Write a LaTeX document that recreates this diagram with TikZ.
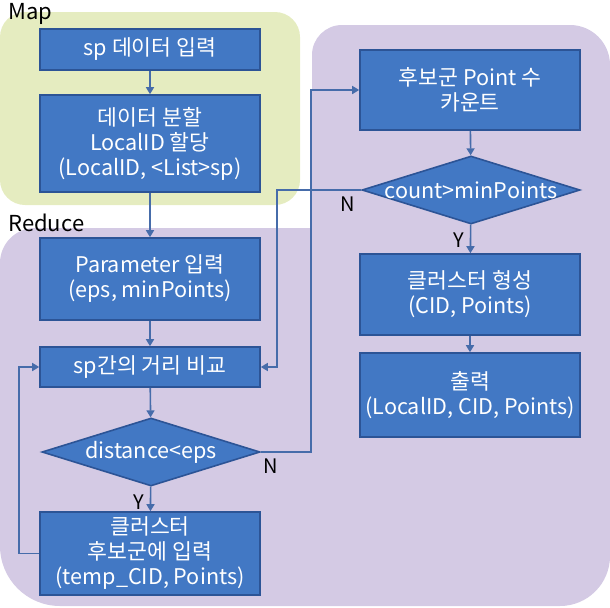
\documentclass[tikz,border=0pt]{standalone}
\usepackage{fontspec}
\setmainfont{Noto Sans CJK KR}
\usetikzlibrary{positioning,arrows.meta,shapes.geometric}
\definecolor{FlowBlue}{RGB}{66,120,196}
\definecolor{FlowEdge}{RGB}{44,84,150}
\definecolor{FlowLine}{RGB}{70,108,170}
\definecolor{MapGreen}{RGB}{229,236,192}
\definecolor{ReduceLilac}{RGB}{212,202,228}

\begin{document}
\begin{tikzpicture}[x=0.5pt,y=0.5pt,
    stepbox/.style={draw=FlowEdge,line width=0.8pt,fill=FlowBlue,text=white,
      minimum width=110pt,align=center,inner sep=2pt,
      font=\fontsize{10.8}{12.5}\selectfont},
    decision/.style={diamond,draw=FlowEdge,line width=0.8pt,fill=FlowBlue,text=white,
      minimum width=109pt,minimum height=34pt,inner sep=0pt,
      font=\fontsize{10.8}{12.5}\selectfont},
    flow/.style={FlowLine,line width=0.8pt,-{Triangle[width=4pt,length=3.5pt]}},
    yn/.style={font=\fontsize{10}{11}\selectfont,inner sep=1pt}]
  \useasboundingbox (0,0) rectangle (610,607);

  % phase backgrounds
  \fill[MapGreen,rounded corners=12.5pt] (0,402) rectangle (300,595);
  \fill[ReduceLilac] (0,61) -- (0,344) arc[start angle=180,end angle=90,radius=17.5pt]
    -- (312,379) -- (312,552) arc[start angle=180,end angle=90,radius=15pt]
    -- (570,582) arc[start angle=90,end angle=0,radius=20pt]
    -- (610,51) arc[start angle=0,end angle=-90,radius=25pt]
    -- (60,1) arc[start angle=270,end angle=180,radius=30pt] -- cycle;
  \node[font=\fontsize{11}{12}\selectfont,anchor=base west,inner sep=0pt] (maplbl) at (8,588) {Map};
  \node[font=\fontsize{11}{12}\selectfont,anchor=base west,inner sep=0pt] (redlbl) at (8,376) {Reduce};

  % map
  \node[stepbox,minimum height=20.5pt] (input) at (150,557.5) {sp 데이터 입력};
  \node[stepbox,minimum height=48.5pt] (split) at (150,463.5) {데이터 분할\\LocalID 할당\\(LocalID, <List>sp)};

  % reduce, left column
  \node[stepbox,minimum height=41pt] (param) at (150,328) {Parameter 입력\\(eps, minPoints)};
  \node[stepbox,minimum height=20pt] (compare) at (150,240) {sp간의 거리 비교};
  \node[decision] (dist) at (151,155) {\makebox[0pt]{distance<eps}};
  \node[stepbox,minimum height=41.5pt] (store) at (150,53.5) {클러스터\\후보군에 입력\\(temp\_CID, Points)};

  % reduce, right column
  \node[stepbox,minimum height=40pt] (cand) at (470,517) {후보군 Point 수\\카운트};
  \node[decision] (check) at (471,417) {\makebox[0pt]{count>minPoints}};
  \node[stepbox,minimum height=40.5pt] (form) at (470,312.5) {클러스터 형성\\(CID, Points)};
  \node[stepbox,minimum height=42pt] (output) at (470,212) {출력\\(LocalID, CID, Points)};

  \node[yn,below left=3pt and 2pt of dist.south] (ydist) {Y};
  \node[yn,below right=2pt and 0pt of dist.east] (ndist) {N};
  \node[yn,below left=3pt and 2pt of check.south] (ycheck) {Y};
  \node[yn,below left=2pt and 2pt of check.west] (ncheck) {N};

  \draw[flow] (input) -- (split);
  \draw[flow] (split) -- (param);
  \draw[flow] (param) -- (compare);
  \draw[flow] (compare) -- (dist);
  \draw[flow] (dist) -- (store);
  \draw[flow] (store.west) -- ++(-20,0) |- (compare.west);
  \draw[flow] (dist.east) -- ++(50,0) |- (cand.west);
  \draw[flow] (cand) -- (check);
  \draw[flow] (check.west) -- ++(-84,0) |- (compare.east);
  \draw[flow] (check) -- (form);
  \draw[flow] (form) -- (output);
\end{tikzpicture}
\end{document}
